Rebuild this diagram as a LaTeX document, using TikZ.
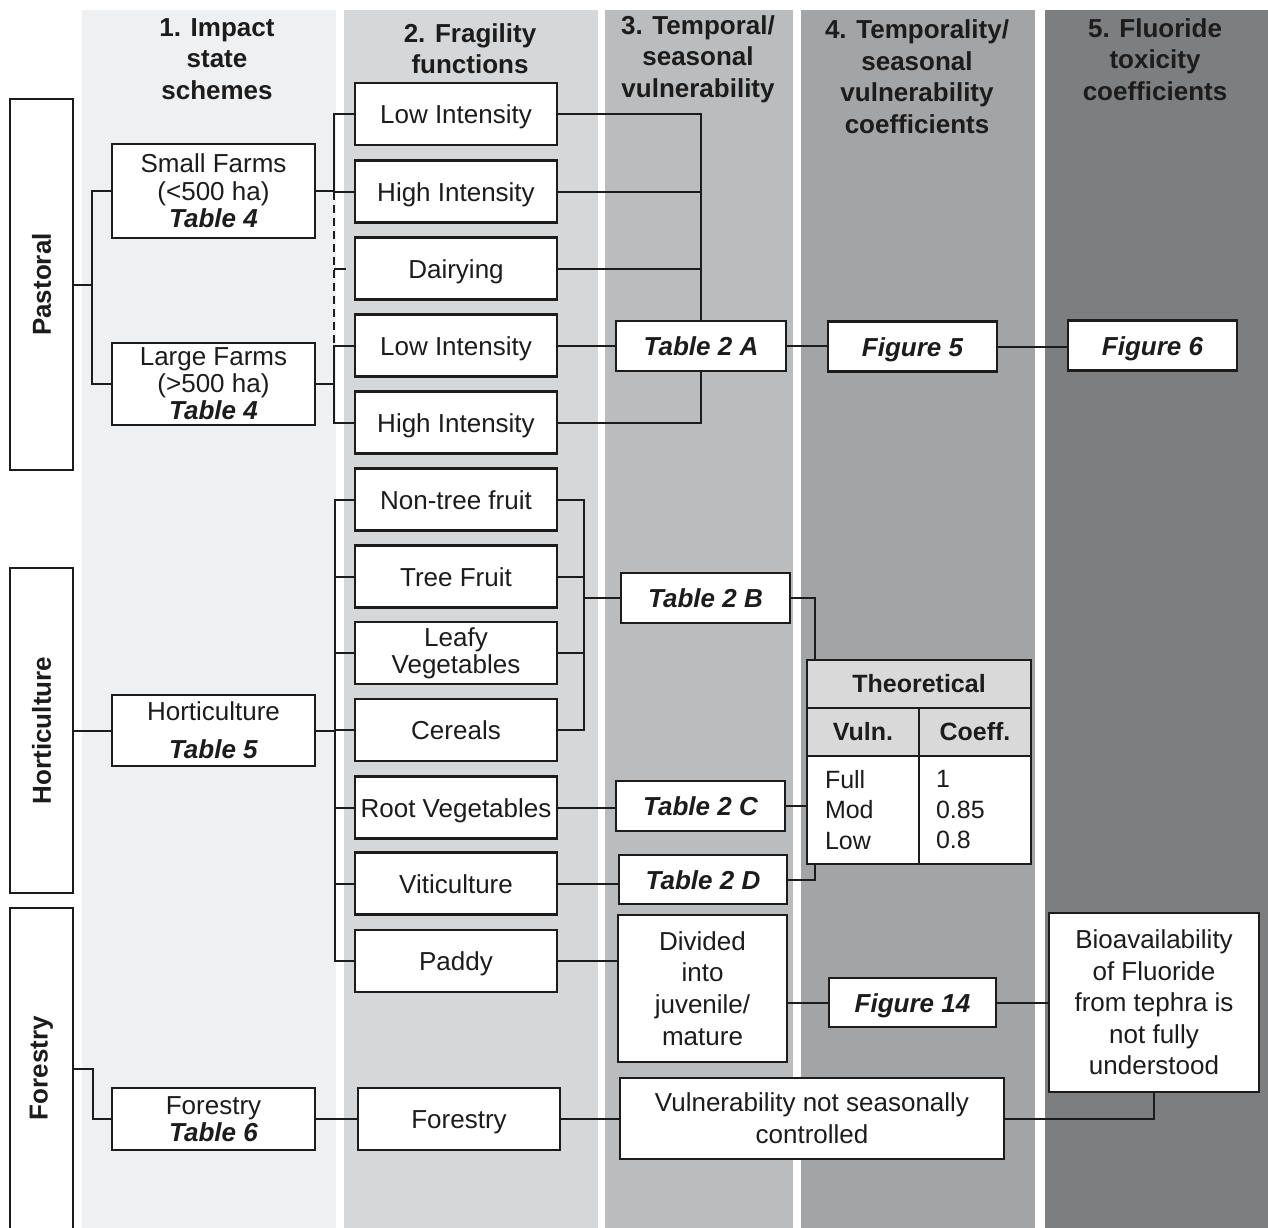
\documentclass[tikz,border=0pt]{standalone}
\usepackage{fontspec}
\setmainfont{Liberation Sans}
\definecolor{cA}{RGB}{239,240,242}
\definecolor{cB}{RGB}{214,215,217}
\definecolor{cC}{RGB}{187,188,190}
\definecolor{cD}{RGB}{163,164,166}
\definecolor{cE}{RGB}{125,126,128}
\definecolor{ink}{RGB}{28,28,28}
\definecolor{thgray}{RGB}{217,217,217}
\newcommand\fntBox{\fontsize{26}{31}\selectfont}
\newcommand\fntTab{\fontsize{26}{31}\selectfont\bfseries\itshape}
\newcommand\fntHead{\fontsize{26}{31.5}\selectfont\bfseries}
\newcommand\fntTh{\fontsize{25}{30.5}\selectfont}
\begin{document}
\begin{tikzpicture}[x=1pt,y=-1pt,
  box/.style={draw=ink, line width=2.7pt, fill=white, text=ink, align=center, inner xsep=2pt, inner ysep=0pt, font=\fntBox},
  one/.style={text height=19pt, text depth=0pt},
  tabbox/.style={box, one, font=\fntTab},
  catbox/.style={draw=ink, line width=2.7pt, fill=white, text=ink, rotate=90, minimum height=63pt, inner sep=0pt, font=\fntHead},
  conn/.style={draw=ink, line width=2pt},
  hdr/.style={align=center, text=ink, font=\fntHead, inner sep=0pt},
  thcell/.style={draw=ink, line width=2.7pt, text=ink, inner sep=0pt}
]
\useasboundingbox (0,0) rectangle (1268,1227);
\fill[white] (0,0) rectangle (1268,1227);
% column bands
\fill[cA] (82,9.5) rectangle (336,1240);
\fill[cB] (344,9.5) rectangle (598,1240);
\fill[cC] (605,9.5) rectangle (793,1240);
\fill[cD] (801,9.5) rectangle (1035,1240);
\fill[cE] (1045,9.5) rectangle (1280,1240);
% headers
\node[hdr] (h1) at (217,59) {1. Impact\\state\\schemes};
\node[hdr] (h2) at (470,48.5) {2. Fragility\\functions};
\node[hdr] (h3) at (698,59) {3. Temporal/\\seasonal\\vulnerability};
\node[hdr] (h4) at (917,76.5) {4. Temporality/\\seasonal\\vulnerability\\coefficients};
\node[hdr] (h5) at (1155,59.5) {5. Fluoride\\toxicity\\coefficients};
% category boxes
\node[catbox, minimum width=371pt] (pastcat) at (41.5,284.5) {Pastoral};
\node[catbox, minimum width=325pt] (hortcat) at (41.5,730.5) {Horticulture};
\node[catbox, minimum width=340pt] (forcat) at (41.5,1078) {\hspace*{20pt}Forestry};
% impact state schemes
\node[box, minimum width=203pt, minimum height=94pt, font=\fontsize{26}{27.5}\selectfont] (sf) at (213.5,191) {Small Farms\\(<500 ha)\\\textbf{\textit{Table 4}}};
\node[box, minimum width=203pt, minimum height=82pt, font=\fontsize{26}{27}\selectfont] (lf) at (213.5,384) {Large Farms\\(>500 ha)\\\textbf{\textit{Table 4}}};
\node[box, minimum width=203pt, minimum height=71pt, font=\fontsize{26}{38}\selectfont] (hort) at (213.5,730.5) {Horticulture\\\textbf{\textit{Table 5}}};
\node[box, minimum width=203pt, minimum height=62pt, font=\fontsize{26}{27}\selectfont] (fortab) at (213.5,1119) {Forestry\\\textbf{\textit{Table 6}}};
% fragility functions
\node[box, one, minimum width=202pt, minimum height=62pt] (li1) at (456,114) {Low Intensity};
\node[box, one, minimum width=202pt, minimum height=62pt] (hi1) at (456,191.5) {High Intensity};
\node[box, one, minimum width=202pt, minimum height=62pt] (dairy) at (456,268.5) {Dairying};
\node[box, one, minimum width=202pt, minimum height=62pt] (li2) at (456,345.5) {Low Intensity};
\node[box, one, minimum width=202pt, minimum height=62pt] (hi2) at (456,422.5) {High Intensity};
\node[box, one, minimum width=202pt, minimum height=62pt] (ntf) at (456,499.5) {Non-tree fruit};
\node[box, one, minimum width=202pt, minimum height=62pt] (tf) at (456,576.5) {Tree Fruit};
\node[box, minimum width=202pt, minimum height=62pt, font=\fontsize{26}{27}\selectfont] (leafy) at (456,653) {Leafy\\Vegetables};
\node[box, one, minimum width=202pt, minimum height=62pt] (cereals) at (456,730) {Cereals};
\node[box, one, minimum width=202pt, minimum height=62pt] (root) at (456,807.5) {Root Vegetables};
\node[box, one, minimum width=202pt, minimum height=62pt] (viti) at (456,883.5) {Viticulture};
\node[box, one, minimum width=202pt, minimum height=62pt] (paddy) at (456,961) {Paddy};
\node[box, one, minimum width=202pt, minimum height=62pt] (forfrag) at (459,1119) {Forestry};
% temporal / seasonal vulnerability
\node[tabbox, minimum width=170pt, minimum height=50pt] (t2a) at (701,346) {Table 2 A};
\node[tabbox, minimum width=169pt, minimum height=50pt] (t2b) at (705.5,598) {Table 2 B};
\node[tabbox, minimum width=169pt, minimum height=50pt] (t2c) at (700.5,806) {Table 2 C};
\node[tabbox, minimum width=168pt, minimum height=49pt] (t2d) at (703,879.5) {Table 2 D};
\node[box, minimum width=169pt, minimum height=147pt, font=\fontsize{26}{31.7}\selectfont] (divided) at (702.5,988.5) {Divided\\into\\juvenile/\\mature};
\node[box, minimum width=384pt, minimum height=81pt, font=\fontsize{26}{32}\selectfont] (vulnot) at (812,1118.5) {Vulnerability not seasonally\\controlled};
% coefficients
\node[tabbox, minimum width=169pt, minimum height=50pt] (fig5) at (912.5,346.5) {Figure 5};
\node[tabbox, minimum width=167pt, minimum height=49pt] (fig14) at (912.5,1002.5) {Figure 14};
\node[thcell, fill=thgray, minimum width=224pt, minimum height=48pt, font=\fntTh\bfseries] (theo) at (919,684) {Theoretical};
\node[thcell, fill=thgray, minimum width=112pt, minimum height=48pt, font=\fntTh\bfseries] (vulnh) at (863,732) {Vuln.};
\node[thcell, fill=thgray, minimum width=112pt, minimum height=48pt, font=\fntTh\bfseries] (coeffh) at (975,732) {Coeff.};
\node[thcell, fill=white, minimum width=112pt, minimum height=108pt, text width=76pt, inner xsep=18pt, align=left, font=\fntTh] (vulnb) at (863,810) {Full\\Mod\\Low};
\node[thcell, fill=white, minimum width=112pt, minimum height=108pt, text width=78pt, inner xsep=17pt, align=left, font=\fntTh] (coeffb) at (975,810) {1\\0.85\\0.8};
% fluoride toxicity
\node[tabbox, minimum width=169pt, minimum height=50pt] (fig6) at (1152.5,345.5) {Figure 6};
\node[box, minimum width=210pt, minimum height=179pt, font=\fontsize{26}{31.5}\selectfont] (bio) at (1154,1002.5) {Bioavailability\\of Fluoride\\from tephra is\\not fully\\understood};
% bus coordinates
\coordinate (pbus) at (92,0);
\coordinate (fbus) at (334,0);
\coordinate (hbus) at (335,0);
\coordinate (bbus) at (584,0);
\coordinate (tbus) at (815,0);
\coordinate (fj) at (93,1069);
% pastoral connectors
\draw[conn] (pastcat.south) -- (pastcat.south -| pbus);
\draw[conn] (sf.west) -| (pbus |- lf.west) -- (lf.west);
\draw[conn] (sf.east) -- (sf.east -| fbus);
\draw[conn] (li1.west) -| (fbus |- hi1.west) -- (hi1.west);
\draw[conn, dash pattern=on 8pt off 5pt] (fbus |- hi1.west) -- (fbus |- li2.west);
\draw[conn, dash pattern=on 12pt off 30pt] (fbus |- dairy.west) -- (dairy.west);
\draw[conn] (lf.east) -- (lf.east -| fbus);
\draw[conn] (li2.west) -| (fbus |- hi2.west) -- (hi2.west);
\draw[conn] (li1.east) -| (t2a.north);
\draw[conn] (hi1.east) -- (hi1.east -| t2a.north);
\draw[conn] (dairy.east) -- (dairy.east -| t2a.north);
\draw[conn] (hi2.east) -| (t2a.south);
\draw[conn] (li2.east) -- (li2.east -| t2a.west);
\draw[conn] (t2a.east) -- (t2a.east -| fig5.west);
\draw[conn] (fig5.east) -- (fig5.east -| fig6.west);
% horticulture connectors
\draw[conn] (hortcat.south) -- (hort.west);
\draw[conn] (hort.east) -- (hort.east -| hbus);
\draw[conn] (ntf.west) -| (hbus |- paddy.west) -- (paddy.west);
\foreach \n in {tf,leafy,cereals,root,viti}{
  \draw[conn] (\n.west -| hbus) -- (\n.west);
}
\draw[conn] (ntf.east) -| (bbus |- cereals.east) -- (cereals.east);
\draw[conn] (tf.east) -- (tf.east -| bbus);
\draw[conn] (leafy.east) -- (leafy.east -| bbus);
\draw[conn] (bbus |- t2b.west) -- (t2b.west);
\draw[conn] (t2b.east) -| (tbus |- theo.north);
\draw[conn] (root.east) -- (root.east -| t2c.west);
\draw[conn] (t2c.east) -- (t2c.east -| vulnb.west);
\draw[conn] (viti.east) -- (viti.east -| t2d.west);
\draw[conn] (t2d.east) -| (tbus |- vulnb.south);
\draw[conn] (paddy.east) -- (paddy.east -| divided.west);
\draw[conn] (divided.east |- fig14.west) -- (fig14.west);
\draw[conn] (fig14.east) -- (fig14.east -| bio.west);
% forestry connectors
\draw[conn] (forcat.south |- fj) -- (fj) |- (fortab.west);
\draw[conn] (fortab.east) -- (fortab.east -| forfrag.west);
\draw[conn] (forfrag.east) -- (forfrag.east -| vulnot.west);
\draw[conn] (vulnot.east) -| (bio.south);
\end{tikzpicture}
\end{document}
